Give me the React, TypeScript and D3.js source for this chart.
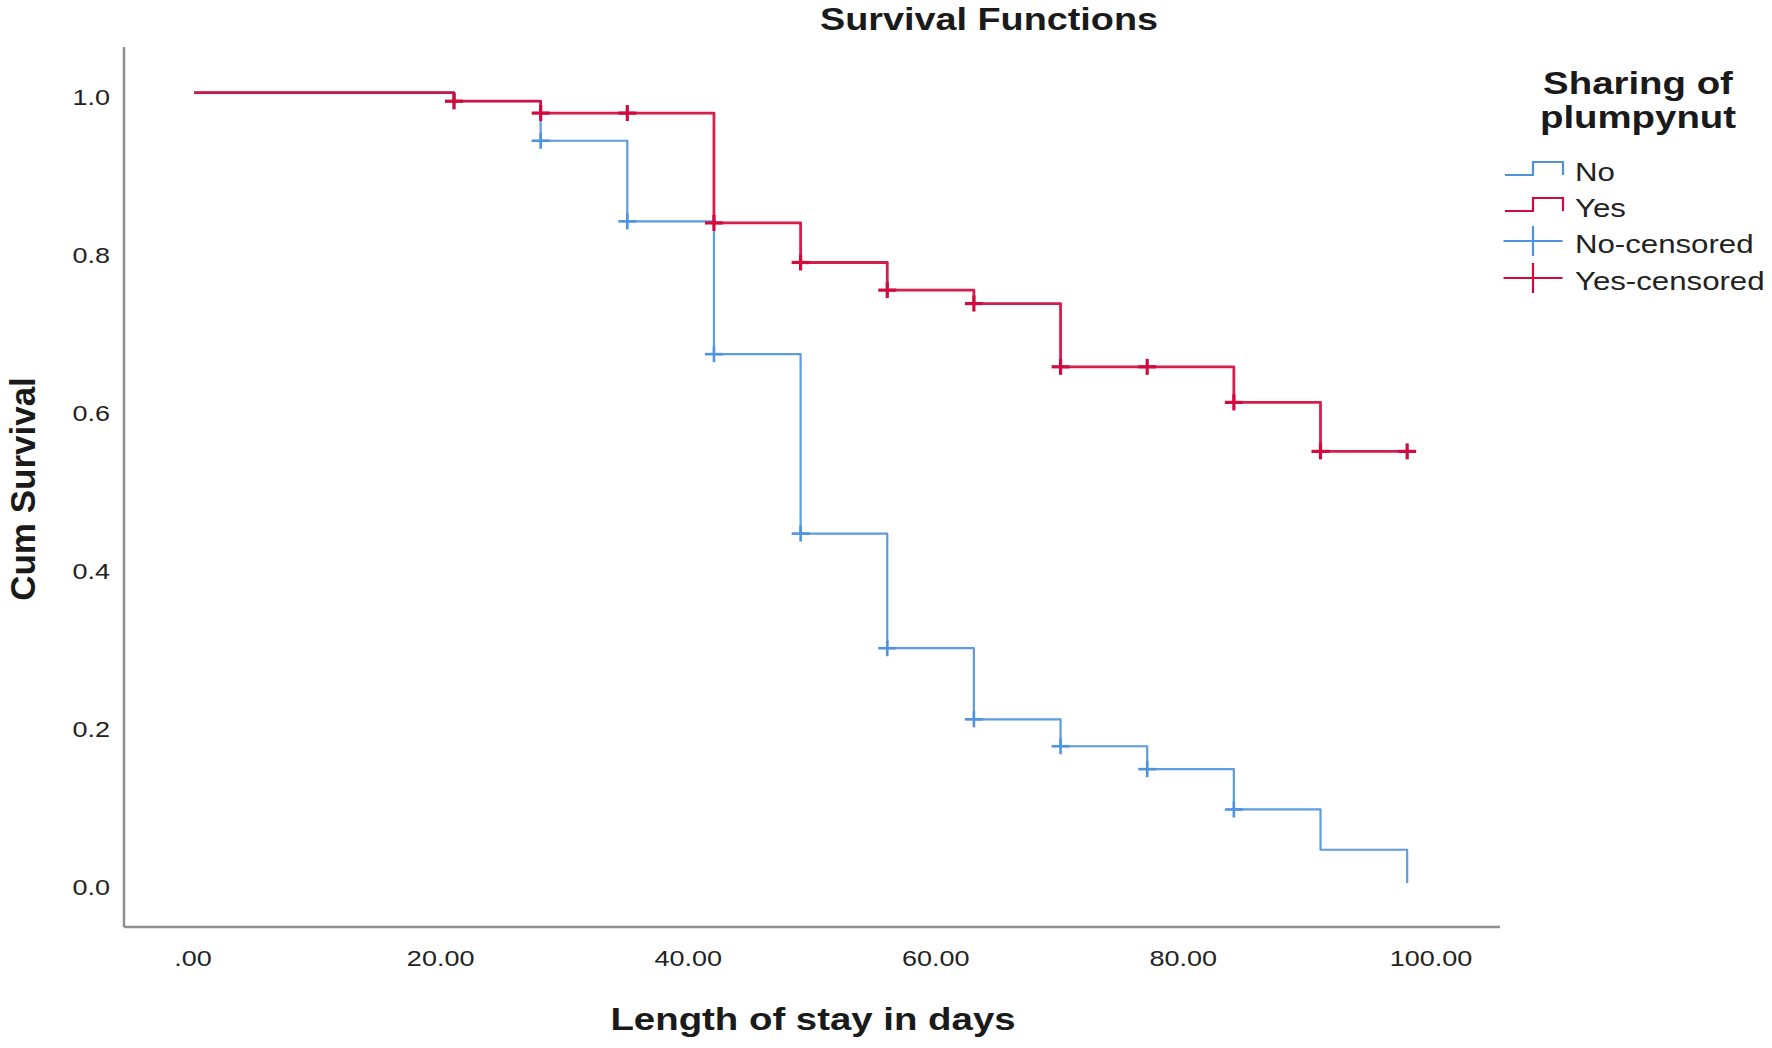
import React from 'react';
import * as d3 from 'd3';

// Kaplan-Meier estimates (value after each time point)
const times = [0, 21, 28, 35, 42, 49, 56, 63, 70, 77, 84, 91, 98];
const survivalNo = [1.0, 0.989, 0.939, 0.837, 0.669, 0.442, 0.297, 0.207, 0.173, 0.144, 0.093, 0.042, 0.0];
const survivalYes = [1.0, 0.989, 0.974, 0.974, 0.835, 0.785, 0.75, 0.733, 0.653, 0.653, 0.608, 0.546, 0.546];
const censoredNo = [21, 28, 35, 42, 49, 56, 63, 70, 77, 84];
const censoredYes = [21, 28, 35, 42, 49, 56, 63, 70, 77, 84, 91, 98];

const xTicks = [0, 20, 40, 60, 80, 100];
const yTicks = [0, 0.2, 0.4, 0.6, 0.8, 1.0];
const legendLabels = ['No', 'Yes', 'No-censored', 'Yes-censored'];

const BLUE = '#4f93e0';
const RED = '#d20a3d';
const FONT = '"Liberation Sans", Arial, sans-serif';
const STRETCH = 1.2;

const W = 1772;
const H = 1048;

const x = d3.scaleLinear().domain([-5.66, 105.5]).range([124, 1500]);
const y = d3.scaleLinear().domain([-0.0557, 1.0576]).range([927, 47]);

const stepLine = d3
  .line<[number, number]>()
  .x((d) => x(d[0]))
  .y((d) => y(d[1]))
  .curve(d3.curveStepAfter);

const valueAt = (surv: number[], t: number) => surv[times.indexOf(t)];

type Series = { surv: number[]; cens: number[]; color: string; width: number };
const series: Series[] = [
  { surv: survivalNo, cens: censoredNo, color: BLUE, width: 2.2 },
  { surv: survivalYes, cens: censoredYes, color: RED, width: 2.8 },
];

// horizontal text in the source is about 20% wider than Arial
const Stretched: React.FC<{ x: number; y: number; size: number; bold?: boolean; anchor?: string; fill?: string; children: React.ReactNode }> = ({
  x: tx,
  y: ty,
  size,
  bold,
  anchor = 'start',
  fill = '#1a1a1a',
  children,
}) => (
  <text
    transform={`translate(${tx},${ty}) scale(${STRETCH},1)`}
    fontSize={size}
    fontWeight={bold ? 'bold' : 'normal'}
    textAnchor={anchor}
    fill={fill}
    fontFamily={FONT}
  >
    {children}
  </text>
);

const Cross: React.FC<{ cx: number; cy: number; color: string; w: number; hx?: number; hy?: number }> = ({ cx, cy, color, w, hx = 9, hy = 8 }) => (
  <g stroke={color} strokeWidth={w}>
    <line x1={cx - hx} x2={cx + hx} y1={cy} y2={cy} />
    <line x1={cx} x2={cx} y1={cy - hy} y2={cy + hy} />
  </g>
);

export default function App() {
  const legendColors = [BLUE, RED, BLUE, RED];
  const rowY = [169, 205, 241, 278];
  const symL = 1505;
  const symR = 1564;
  const symMid = 1533;

  return (
    <svg width={W} height={H} style={{ position: 'absolute', left: 0, top: 0, background: '#fff' }}>
      <rect width={W} height={H} fill="#fff" />

      {/* title */}
      <Stretched x={989} y={30} size={31.5} bold anchor="middle">
        Survival Functions
      </Stretched>

      {/* axes */}
      <g stroke="#8f8f8f" strokeWidth={2.5} fill="none">
        <line x1={x.range()[0]} x2={x.range()[0]} y1={y.range()[1]} y2={y.range()[0]} />
        <line x1={x.range()[0]} x2={x.range()[1]} y1={y.range()[0]} y2={y.range()[0]} />
      </g>

      {yTicks.map((t) => (
        <Stretched key={'y' + t} x={110} y={y(t) + 12} size={22.5} anchor="end" fill="#222">
          {d3.format('.1f')(t)}
        </Stretched>
      ))}
      {xTicks.map((t) => (
        <Stretched key={'x' + t} x={x(t) - 1} y={966} size={22.5} anchor="middle" fill="#222">
          {t === 0 ? '.00' : d3.format('.2f')(t)}
        </Stretched>
      ))}

      {/* axis titles */}
      <text
        transform={`translate(35,489) rotate(-90)`}
        fontSize={35}
        fontWeight="bold"
        textAnchor="middle"
        fontFamily={FONT}
        fill="#1a1a1a"
      >
        Cum Survival
      </text>
      <Stretched x={813} y={1030} size={32} bold anchor="middle">
        Length of stay in days
      </Stretched>

      {/* survival curves */}
      {series.map((s, i) => (
        <g key={'s' + i}>
          <path
            d={stepLine(times.map((t, k) => [t, s.surv[k]] as [number, number])) ?? ''}
            fill="none"
            stroke={s.color}
            strokeWidth={s.width}
            strokeLinejoin="round"
            opacity={0.92}
          />
          {s.cens.map((t) => (
            <Cross key={t} cx={x(t)} cy={y(valueAt(s.surv, t))} color={s.color} w={s.width + 0.4} />
          ))}
        </g>
      ))}

      {/* legend */}
      <Stretched x={1638} y={94} size={32} bold anchor="middle">
        Sharing of
      </Stretched>
      <Stretched x={1638} y={128} size={32} bold anchor="middle">
        plumpynut
      </Stretched>
      {legendLabels.map((label, i) => {
        const cy = rowY[i];
        const c = legendColors[i];
        return (
          <g key={label}>
            {i < 2 ? (
              <path
                d={`M${symL},${cy + 6}H${symMid}V${cy - 7}H${symR - 1}V${cy + 6}`}
                fill="none"
                stroke={c}
                strokeWidth={2.2}
              />
            ) : (
              <Cross cx={symMid} cy={cy} color={c} w={2.2} hx={(symR - symL) / 2} hy={15} />
            )}
            <Stretched x={1575} y={cy + 12} size={26} fill="#222">
              {label}
            </Stretched>
          </g>
        );
      })}
    </svg>
  );
}
